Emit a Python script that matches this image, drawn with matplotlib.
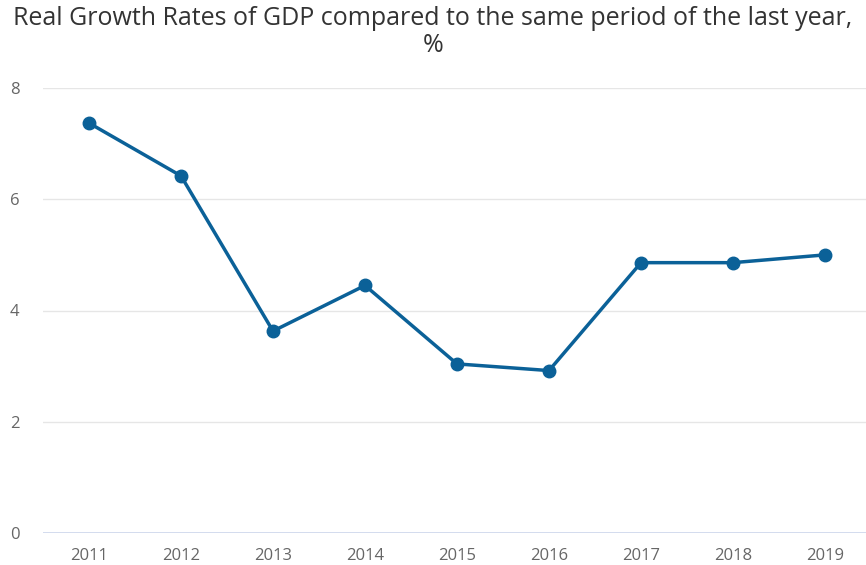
import matplotlib.pyplot as plt

years = ["2011", "2012", "2013", "2014", "2015", "2016", "2017", "2018", "2019"]
growth = [7.37, 6.42, 3.63, 4.45, 3.04, 2.92, 4.86, 4.86, 5.0]
y_ticks = [0, 2, 4, 6, 8]

plt.rcParams["font.family"] = ["Open Sans", "DejaVu Sans"]

fig = plt.figure(figsize=(8.66, 5.65), dpi=100)
ax = fig.add_axes([43 / 866, 32 / 565, 828 / 866, 445 / 565])

x = list(range(len(years)))
ax.plot(x, growth, color="#0b6198", linewidth=2.5, marker="o",
        markersize=9, zorder=3, clip_on=False)

ax.set_xlim(-0.5, len(years) - 0.5)
ax.set_ylim(0, 8)
ax.set_xticks(x)
ax.set_xticklabels(years)
ax.set_yticks(y_ticks)

for t in y_ticks[1:]:
    ax.axhline(t, color="#e6e6e6", linewidth=1, zorder=1)
ax.axhline(0, color="#ccd6eb", linewidth=1.2, zorder=1)

for side in ["top", "right", "left", "bottom"]:
    ax.spines[side].set_visible(False)

ax.tick_params(axis="both", length=0, labelsize=12, colors="#666666")
ax.tick_params(axis="x", pad=11)
ax.tick_params(axis="y", pad=24)
for lbl in ax.get_yticklabels():
    lbl.set_horizontalalignment("left")

fig.text(0.5, 0.99, "Real Growth Rates of GDP compared to the same period of the last year,\n%",
         ha="center", va="top", fontsize=18, color="#333333", linespacing=1.15)

fig.savefig("out.png", dpi=100)
